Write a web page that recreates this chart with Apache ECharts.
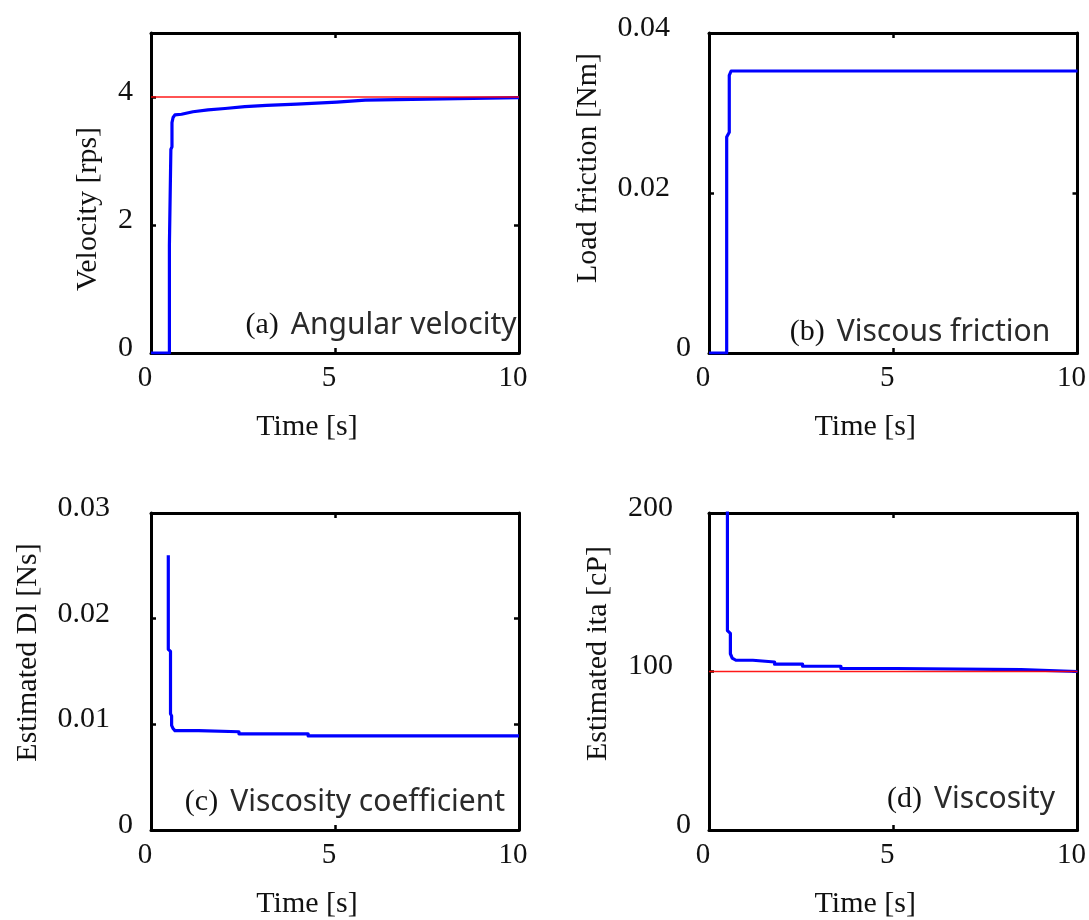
<!DOCTYPE html>
<html>
<head>
<meta charset="utf-8">
<script src="https://cdn.jsdelivr.net/npm/echarts@6/dist/echarts.min.js"></script>
<style>
  html, body { margin: 0; padding: 0; background: #ffffff; }
  #chart { width: 1089px; height: 920px; }
</style>
</head>
<body>
<div id="chart"></div>
<script>
// Shared time axis [s]
const timeMin = 0;
const timeMax = 10;
const timeStep = 5;

// (a) Angular velocity [rps] and its command value
const velocityT = [0, 0.50, 0.50, 0.54, 0.54, 0.57, 0.57, 0.60, 0.65, 0.83, 0.83, 1.14, 1.14, 1.55, 1.55,
                   2.01, 2.01, 2.55, 2.55, 3.14, 3.14, 3.96, 3.96, 5.05, 5.05, 5.82, 5.82, 6.68, 6.68, 10];
const velocityV = [0, 0, 1.68, 1.70, 3.18, 3.22, 3.60, 3.68, 3.72, 3.73, 3.76, 3.77, 3.80, 3.80, 3.82,
                   3.82, 3.85, 3.85, 3.87, 3.87, 3.89, 3.89, 3.92, 3.92, 3.95, 3.95, 3.96, 3.96, 3.99, 3.99];
const velocityCommand = 4;

// (b) Viscous (load) friction torque [Nm]
const frictionT = [0, 0.48, 0.48, 0.55, 0.55, 0.60, 10];
const frictionV = [0, 0, 0.0270, 0.0276, 0.0347, 0.03525, 0.03525];

// (c) Estimated viscosity coefficient Dl [Ns]
const dlT = [0.47, 0.47, 0.53, 0.53, 0.56, 0.56, 0.60, 0.65, 1.29, 1.29, 2.39, 2.39, 4.27, 4.27, 10];
const dlV = [0.0260, 0.0171, 0.0169, 0.0110, 0.0108, 0.0099, 0.0096, 0.0094, 0.0094, 0.0093, 0.0093,
             0.0091, 0.0091, 0.0089, 0.0089];

// (d) Estimated viscosity [cP] and the true value
const etaT = [0.50, 0.50, 0.58, 0.58, 0.63, 0.73, 1.19, 1.19, 1.78, 1.78, 2.54, 2.54, 3.58, 3.58,
              5.06, 5.06, 8.47, 8.47, 10];
const etaV = [290, 125.8, 124, 111.2, 108.5, 107.1, 107.1, 106.0, 106.0, 104.6, 104.6, 103.3, 103.3,
              101.9, 101.9, 101.2, 101.2, 100.0, 100.0];
const etaTrue = 100;

// Axis names, y ranges and panel captions
const yNames = ['Velocity [rps]', 'Load friction [Nm]', 'Estimated Dl [Ns]', 'Estimated ita [cP]'];
const yMax = [5, 0.04, 0.03, 200];
const yStep = [2, 0.02, 0.01, 100];
const captionTags = ['(a)', '(b)', '(c)', '(d)'];
const captionTexts = ['Angular velocity', 'Viscous friction', 'Viscosity coefficient', 'Viscosity'];
const xName = 'Time [s]';

const zip = (a, b) => a.map((v, i) => [v, b[i]]);
const curves = [zip(velocityT, velocityV), zip(frictionT, frictionV), zip(dlT, dlV), zip(etaT, etaV)];
const refLines = [velocityCommand, null, null, etaTrue];

// Panel geometry and label placement
const layout = [
  { left: 151, top: 33,  width: 368, height: 320, nameGap: 48,  namePad: [0, 32, 0, 0], nzPad: 0,  cap: [381, 325], showMax: false },
  { left: 709, top: 33,  width: 371, height: 320, nameGap: 106, namePad: [0, 0, 0, 50], nzPad: 21, cap: [920, 332], showMax: true },
  { left: 151, top: 513, width: 368, height: 320, nameGap: 108, namePad: [0, 0, 0, 38], nzPad: 23, cap: [345, 802], showMax: true },
  { left: 709, top: 513, width: 371, height: 320, nameGap: 96,  namePad: [0, 0, 0, 36], nzPad: 18, cap: [971, 799], showMax: true }
];

const SERIF = '"Liberation Serif", "Times New Roman", serif';
const SANS = '"Noto Sans", "Noto Sans CJK JP", sans-serif';
const INK = '#111111';
const frameLine = { show: true, onZero: false, lineStyle: { color: '#000', width: 3 } };
const innerTick = { show: true, inside: true, length: 5, lineStyle: { color: '#000', width: 2.5 } };

const grid = [], xAxis = [], yAxis = [], series = [], graphic = [];

layout.forEach((L, i) => {
  grid.push({ left: L.left, top: L.top, width: L.width, height: L.height, containLabel: false });

  // bottom time axis with labels, top mirror with ticks only
  xAxis.push({
    type: 'value', gridIndex: i, position: 'bottom', min: timeMin, max: timeMax, interval: timeStep,
    axisLine: frameLine, axisTick: innerTick, splitLine: { show: false },
    axisLabel: { margin: 11, color: INK, fontFamily: SERIF, fontSize: 29, padding: [0, 12, 0, 0] },
    name: xName, nameLocation: 'middle', nameGap: 59, nameMoveOverlap: false,
    nameTextStyle: { color: INK, fontFamily: SERIF, fontSize: 30, padding: [0, 56, 0, 0] }
  });
  xAxis.push({
    type: 'value', gridIndex: i, position: 'top', min: timeMin, max: timeMax, interval: timeStep,
    axisLine: frameLine, axisTick: innerTick, axisLabel: { show: false }, splitLine: { show: false }
  });

  // left value axis with labels, right mirror with ticks only
  const pad = L.nzPad;
  yAxis.push({
    type: 'value', gridIndex: i, position: 'left', min: 0, max: yMax[i], interval: yStep[i],
    axisLine: frameLine, axisTick: innerTick, splitLine: { show: false },
    axisLabel: {
      margin: 18, showMaxLabel: L.showMax,
      formatter: v => (v === 0 ? '{z|0}' : '{n|' + v + '}'),
      rich: {
        z: { color: INK, fontFamily: SERIF, fontSize: 30, padding: [0, 0, 10, 0] },
        n: { color: INK, fontFamily: SERIF, fontSize: 30, padding: [0, pad, 10, 0] }
      }
    },
    name: yNames[i], nameLocation: 'middle', nameGap: L.nameGap, nameMoveOverlap: false,
    nameTextStyle: { color: INK, fontFamily: SERIF, fontSize: 30, padding: L.namePad }
  });
  yAxis.push({
    type: 'value', gridIndex: i, position: 'right', min: 0, max: yMax[i], interval: yStep[i],
    axisLine: frameLine, axisTick: innerTick, axisLabel: { show: false }, splitLine: { show: false }
  });

  series.push({
    type: 'line', xAxisIndex: 2 * i, yAxisIndex: 2 * i, data: curves[i],
    symbol: 'none', clip: true, z: 3,
    lineStyle: { color: '#0000ff', width: 3.2, join: 'round' }
  });
  if (refLines[i] !== null) {
    series.push({
      type: 'line', xAxisIndex: 2 * i, yAxisIndex: 2 * i,
      data: [[timeMin, refLines[i]], [timeMax, refLines[i]]],
      symbol: 'none', z: 4, color: '#ff0000',
      lineStyle: { color: '#ff0000', width: 1.5, opacity: 0.9 }
    });
  }

  graphic.push({
    type: 'text', x: L.cap[0], y: L.cap[1], z: 10,
    style: {
      text: '{p|' + captionTags[i] + '}{s|' + captionTexts[i] + '}',
      align: 'center', verticalAlign: 'middle',
      rich: {
        p: { fontFamily: SERIF, fontSize: 30, fill: INK, padding: [0, 12, 0, 0] },
        s: { fontFamily: SANS, fontSize: 30, fill: '#2a2a2a' }
      }
    }
  });
});

const chart = echarts.init(document.getElementById('chart'), null, { renderer: 'canvas' });
chart.setOption({
  backgroundColor: '#ffffff',
  animation: false,
  grid, xAxis, yAxis, series, graphic
});
</script>
</body>
</html>
